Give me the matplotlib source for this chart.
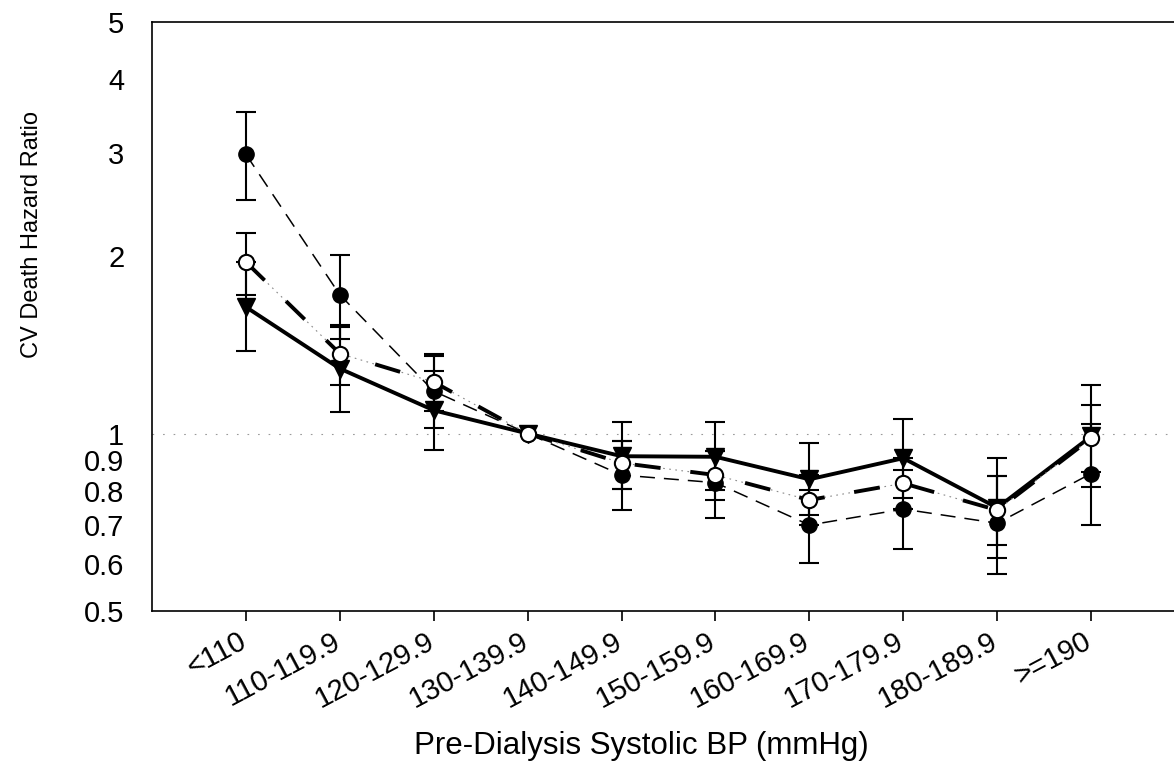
import numpy as np
import matplotlib
matplotlib.use("Agg")
import matplotlib.pyplot as plt
from matplotlib import font_manager
from matplotlib.ticker import FixedLocator, NullFormatter
from matplotlib.transforms import ScaledTranslation

plt.rcParams["font.family"] = ["Liberation Sans", "DejaVu Sans"]

categories = ["<110", "110-119.9", "120-129.9", "130-139.9", "140-149.9",
              "150-159.9", "160-169.9", "170-179.9", "180-189.9", ">=190"]

# filled circles, thin dashed line
hr_a = [2.98, 1.72, 1.18, 1.0, 0.850, 0.825, 0.699, 0.744, 0.704, 0.855]
lo_a = [2.49, 1.45, 1.02, 1.0, 0.741, 0.719, 0.603, 0.636, 0.577, 0.699]
hi_a = [3.51, 2.01, 1.354, 1.0, 0.970, 0.933, 0.803, 0.867, 0.846, 1.036]

# open circles, long dash / dotted line
hr_b = [1.955, 1.367, 1.223, 1.0, 0.891, 0.850, 0.771, 0.823, 0.741, 0.981]
lo_b = [1.72, 1.208, 1.094, 1.0, 0.805, 0.771, 0.70, 0.745, 0.647, 0.86]
hi_b = [2.19, 1.528, 1.367, 1.0, 0.970, 0.933, 0.85, 0.91, 0.846, 1.120]

# filled down-triangles, solid line
hr_c = [1.64, 1.289, 1.095, 1.0, 0.915, 0.913, 0.836, 0.908, 0.748, 0.989]
lo_c = [1.38, 1.088, 0.937, 1.0, 0.804, 0.803, 0.727, 0.778, 0.614, 0.812]
hi_c = [1.955, 1.517, 1.276, 1.0, 1.046, 1.046, 0.965, 1.060, 0.907, 1.211]

yticks = [0.5, 0.6, 0.7, 0.8, 0.9, 1, 2, 3, 4, 5]
ref_index = 3  # reference category, no interval drawn

x = np.arange(len(categories))

fig = plt.figure(figsize=(11.74, 7.68), dpi=100)
ax = fig.add_axes([0.1295, 0.2048, 0.8799, 0.7665])

ax.axhline(1.0, color="#9a9a9a", lw=0.8, linestyle=(0, (1.5, 8)), zorder=1)

# confidence intervals (skip the reference group)
keep = x != ref_index
for hr, lo, hi in [(hr_a, lo_a, hi_a), (hr_b, lo_b, hi_b), (hr_c, lo_c, hi_c)]:
    hr, lo, hi = np.array(hr), np.array(lo), np.array(hi)
    ax.errorbar(x[keep], hr[keep], yerr=[hr[keep] - lo[keep], hi[keep] - hr[keep]],
                fmt="none", ecolor="black", elinewidth=1.5, capsize=7.2,
                capthick=1.5, zorder=2)

ax.plot(x, hr_a, color="black", lw=1.1, linestyle=(0, (9.8, 5.9)),
        marker="o", ms=11, mfc="black", mec="black", zorder=3)
ax.plot(x, hr_c, color="black", lw=2.8, linestyle="-",
        marker="v", ms=13, mfc="black", mec="black", zorder=4)
ax.plot(x, hr_b, color="#8a8a8a", lw=0.8, linestyle=(0, (1.5, 4)), zorder=5)
ax.plot(x, hr_b, color="black", lw=2.8, linestyle=(0, (6.7, 7.7)),
        marker="o", ms=11, mfc="white", mec="black", mew=1.5, zorder=5)

ax.set_yscale("log")
ax.set_ylim(0.5, 5)
ax.set_xlim(-1, 10)

ax.yaxis.set_major_locator(FixedLocator(yticks))
ax.set_yticklabels([f"{v:g}" for v in yticks])
ax.yaxis.set_minor_locator(FixedLocator([1]))
ax.yaxis.set_minor_formatter(NullFormatter())
ax.tick_params(axis="y", which="major", length=0, pad=20, labelsize=21)
ax.tick_params(axis="y", which="minor", length=7, width=1.2)

ax.set_xticks(x)
ax.set_xticklabels(categories, rotation=28, ha="right")
ax.tick_params(axis="x", length=7, width=1.2, pad=5, labelsize=21)
# nudge the rotated labels a little to the right, as in the original
shift = ScaledTranslation(5 / 100, 0, fig.dpi_scale_trans)
for lab in ax.get_xticklabels():
    lab.set_transform(lab.get_transform() + shift)

for side in ["left", "bottom", "top"]:
    ax.spines[side].set_linewidth(1.2)
ax.spines["right"].set_visible(False)

# the y title looks condensed in the original; use the narrow face if present
names = {f.name for f in font_manager.fontManager.ttflist}
if "Liberation Sans Narrow" in names:
    ax.set_ylabel("CV Death Hazard Ratio", fontsize=20.5,
                  family="Liberation Sans Narrow")
else:
    ax.set_ylabel("CV Death Hazard Ratio", fontsize=17)
ax.yaxis.set_label_coords(32 / 1174, 1 - 235 / 768, transform=fig.transFigure)
ax.set_xlabel("Pre-Dialysis Systolic BP (mmHg)", fontsize=22.5)
ax.xaxis.set_label_coords(641 / 1174, 1 - 746 / 768, transform=fig.transFigure)
ax.xaxis.label.set_va("center")
ax.yaxis.label.set_va("center")

fig.savefig("out.png", dpi=100)
plt.close(fig)
